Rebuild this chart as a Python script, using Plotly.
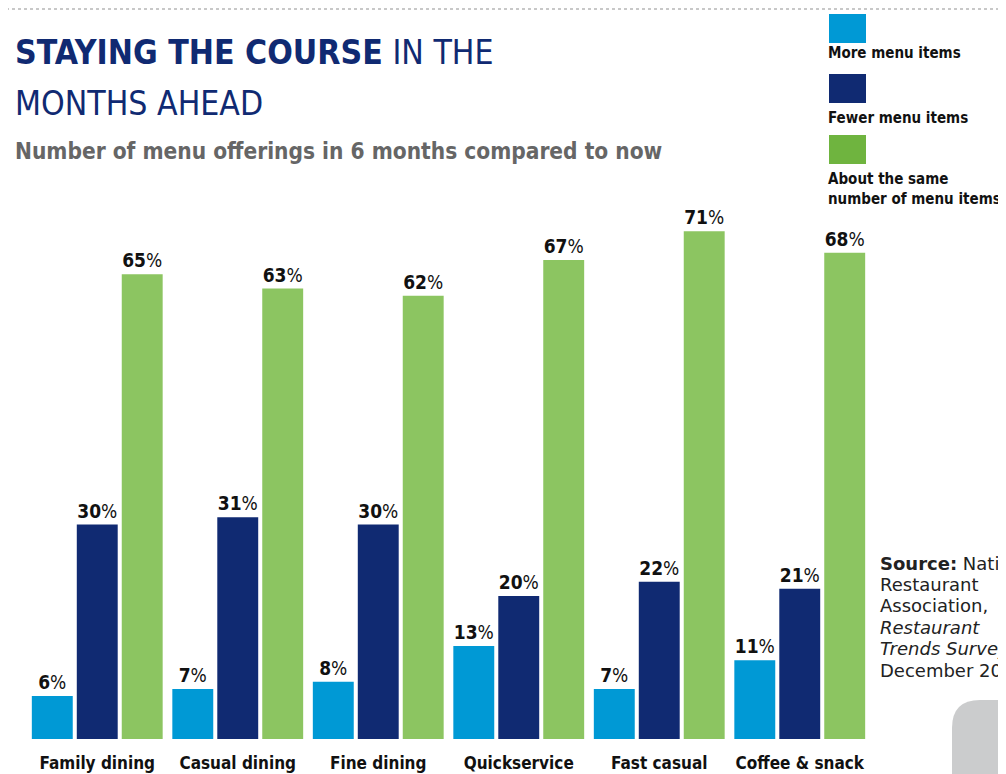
import plotly.graph_objects as go

categories = ["Family dining", "Casual dining", "Fine dining", "Quickservice", "Fast casual", "Coffee & snack"]
more_items = [6, 7, 8, 13, 7, 11]
fewer_items = [30, 31, 30, 20, 22, 21]
same_items = [65, 63, 62, 67, 71, 68]
series_names = ["More menu items", "Fewer menu items", "About the same<br>number of menu items"]
source_lines = ["<b>Source:</b> National", "Restaurant", "Association,", "<i>Restaurant</i>",
                "<i>Trends Survey,</i>", "December 2020"]

BLUE = "#0099d5"
NAVY = "#102a72"
GREEN = "#8cc561"
GREEN_LEG = "#6fb43f"
NARROW = "Liberation Sans Narrow, DejaVu Sans Condensed, Arial Narrow, sans-serif"

# page offset of the figure (default body margin)
OFF = 8
W, H = 998, 766
# plot area in screen pixels: x 27..870, y 167..739
L, T = 27 - OFF, 167 - OFF
R, B = W - (870 - OFF), H - (739 - OFF)
PW, PH = W - L - R, H - T - B

def px_x(sx):
    return (sx - OFF - L) / PW
def px_y(sy):
    return (H - B - (sy - OFF)) / PH

fig = go.Figure()
for vals, col, name in [(more_items, BLUE, series_names[0]),
                        (fewer_items, NAVY, series_names[1]),
                        (same_items, GREEN, series_names[2])]:
    fig.add_trace(go.Bar(
        x=categories, y=vals, name=name, marker=dict(color=col, line=dict(width=0)),
        texttemplate="<b>%{y}</b>%", textposition="outside", cliponaxis=False,
        textfont=dict(family=NARROW, size=19, color="#111111"),
    ))

fig.update_layout(
    width=W, height=H,
    margin=dict(l=L, r=R, t=T, b=B, autoexpand=False),
    paper_bgcolor="white", plot_bgcolor="white",
    barmode="group", bargap=0.04, bargroupgap=0.09,
    showlegend=False,
    xaxis=dict(showgrid=False, showline=False, zeroline=False, ticks="", automargin=False,
               tickfont=dict(family=NARROW, size=17, color="#111111", weight="bold"),
               ticklabelstandoff=12),
    yaxis=dict(range=[0, 80], visible=False, automargin=False),
)

# title (two lines)
fig.add_annotation(xref="paper", yref="paper", x=px_x(13), y=px_y(53), xanchor="left", yanchor="middle",
                   align="left", showarrow=False,
                   text="<b>STAYING THE COURSE</b> IN THE",
                   font=dict(family=NARROW, size=33.5, color="#102a72"))
fig.add_annotation(xref="paper", yref="paper", x=px_x(13), y=px_y(104), xanchor="left", yanchor="middle",
                   align="left", showarrow=False,
                   text="MONTHS AHEAD",
                   font=dict(family=NARROW, size=33.5, color="#102a72"))
# subtitle
fig.add_annotation(xref="paper", yref="paper", x=px_x(13), y=px_y(151), xanchor="left", yanchor="middle",
                   align="left", showarrow=False,
                   text="<b>Number of menu offerings in 6 months compared to now</b>",
                   font=dict(family=NARROW, size=22.5, color="#666666"))

# legend drawn manually
legend_items = [(BLUE, 14, series_names[0], 53),
                (NAVY, 74, series_names[1], 118),
                (GREEN_LEG, 135, series_names[2], 189)]
for col, top, label, ty in legend_items:
    fig.add_shape(type="rect", xref="paper", yref="paper",
                  x0=px_x(829), x1=px_x(866), y0=px_y(top + 29), y1=px_y(top),
                  fillcolor=col, line=dict(width=0))
    fig.add_annotation(xref="paper", yref="paper", x=px_x(826), y=px_y(ty), xanchor="left", yanchor="middle",
                       align="left", showarrow=False, text="<b>" + label + "</b>",
                       font=dict(family=NARROW, size=15, color="#111111"))

# source, one line per annotation for tight line spacing
for i, line in enumerate(source_lines):
    fig.add_annotation(xref="paper", yref="paper", x=px_x(878), y=px_y(563 + 21.4 * i),
                       xanchor="left", yanchor="middle", align="left", showarrow=False,
                       text=line, font=dict(family="DejaVu Sans, sans-serif", size=18, color="#222222"))

# grey rounded shape bottom-right (pixel path anchored at paper origin)
x0, y0, r = 952, 700, 28
def pp(sx, sy):
    return f"{sx - OFF - L},{(H - B) - (sy - OFF)}"
path = (f"M {pp(x0 + r, y0)} L {pp(1020, y0)} L {pp(1020, 790)} L {pp(x0, 790)} "
        f"L {pp(x0, y0 + r)} Q {pp(x0, y0)} {pp(x0 + r, y0)} Z")
fig.add_shape(type="path", xref="paper", yref="paper", xsizemode="pixel", ysizemode="pixel",
              xanchor=0, yanchor=0, path=path,
              fillcolor="#cbcccd", line=dict(width=0), layer="below")

# dotted top line (as high as the page allows)
fig.add_shape(type="line", xref="paper", yref="paper", x0=px_x(0), x1=px_x(1010), y0=px_y(9), y1=px_y(9),
              line=dict(color="#c8c8c8", width=2, dash="dot"))

fig.write_html("out.html")
